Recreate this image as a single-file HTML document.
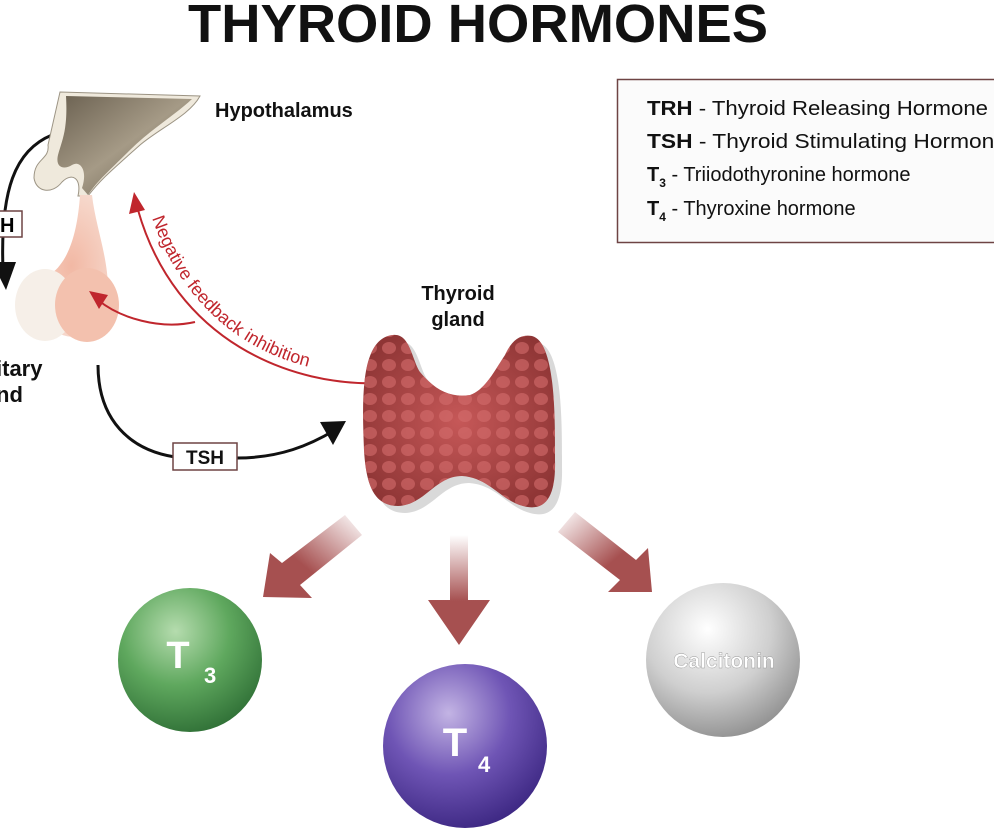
<!DOCTYPE html>
<html><head><meta charset="utf-8"><style>
html,body{margin:0;padding:0;background:#fff;}
svg{display:block;font-family:"Liberation Sans",sans-serif;}
</style></head><body>
<svg width="994" height="828" viewBox="0 0 994 828" xmlns="http://www.w3.org/2000/svg">
<defs>
<radialGradient id="gT3" cx="0.4" cy="0.3" r="0.75"><stop offset="0" stop-color="#b5dcae"/><stop offset="0.5" stop-color="#5fa85e"/><stop offset="1" stop-color="#2e6e35"/></radialGradient>
<radialGradient id="gT4" cx="0.4" cy="0.3" r="0.75"><stop offset="0" stop-color="#c3b4e4"/><stop offset="0.5" stop-color="#6f55b5"/><stop offset="1" stop-color="#3a2580"/></radialGradient>
<radialGradient id="gC" cx="0.4" cy="0.3" r="0.75"><stop offset="0" stop-color="#ffffff"/><stop offset="0.55" stop-color="#cfcfcf"/><stop offset="1" stop-color="#8d8d8d"/></radialGradient>
<radialGradient id="gTh" cx="0.5" cy="0.5" r="0.6"><stop offset="0" stop-color="#c65858"/><stop offset="1" stop-color="#8e3535"/></radialGradient>
<linearGradient id="gHy" x1="0" y1="0" x2="1" y2="1"><stop offset="0" stop-color="#6b6151"/><stop offset="0.5" stop-color="#a59a86"/><stop offset="1" stop-color="#5f5646"/></linearGradient>
<radialGradient id="gPit" cx="0.6" cy="0.5" r="0.6"><stop offset="0" stop-color="#f2b8a4"/><stop offset="1" stop-color="#f7ddd2"/></radialGradient>
<linearGradient id="aL" x1="1" y1="0" x2="0" y2="1"><stop offset="0" stop-color="#a65050" stop-opacity="0"/><stop offset="0.6" stop-color="#a65050"/></linearGradient>
<linearGradient id="aM" x1="0" y1="0" x2="0" y2="1"><stop offset="0" stop-color="#a65050" stop-opacity="0"/><stop offset="0.6" stop-color="#a65050"/></linearGradient>
<linearGradient id="aR" x1="0" y1="0" x2="1" y2="1"><stop offset="0" stop-color="#a65050" stop-opacity="0"/><stop offset="0.6" stop-color="#a65050"/></linearGradient>
<pattern id="cells" width="19" height="17" patternUnits="userSpaceOnUse"><ellipse cx="9" cy="8" rx="7" ry="6" fill="#d46c6c" opacity="0.6"/></pattern>
</defs>

<text x="478" y="42" text-anchor="middle" font-size="54" font-weight="bold" fill="#111" textLength="580" lengthAdjust="spacingAndGlyphs">THYROID HORMONES</text>

<!-- legend -->
<rect x="617.5" y="79.5" width="390" height="163" fill="#fbfbfb" stroke="#6e4444" stroke-width="1.5"/>
<g font-size="20" fill="#111">
<text x="647" y="115" textLength="341" lengthAdjust="spacingAndGlyphs"><tspan font-weight="bold">TRH</tspan> - Thyroid Releasing Hormone</text>
<text x="647" y="148" textLength="360" lengthAdjust="spacingAndGlyphs"><tspan font-weight="bold">TSH</tspan> - Thyroid Stimulating Hormone</text>
<text x="647" y="181"><tspan font-weight="bold">T</tspan><tspan font-weight="bold" font-size="12" dy="6">3</tspan><tspan dy="-6"> - Triiodothyronine hormone</tspan></text>
<text x="647" y="215"><tspan font-weight="bold">T</tspan><tspan font-weight="bold" font-size="12" dy="6">4</tspan><tspan dy="-6"> - Thyroxine hormone</tspan></text>
</g>

<!-- left TRH arrow -->
<path d="M52,135 C15,150 0,190 3,270" fill="none" stroke="#111" stroke-width="3"/>
<polygon points="-8,262 16,262 6,290" fill="#111"/>
<rect x="-10" y="211" width="32" height="26" fill="#fff" stroke="#6e4444" stroke-width="1.5"/>
<text x="0" y="232" font-size="20" font-weight="bold">H</text>

<!-- hypothalamus -->
<path d="M60,92 L200,96 C190,115 160,128 140,145 C112,170 100,180 88,196 L78,196 C82,178 72,172 62,182 C52,195 36,192 34,178 C34,158 50,160 48,145 Z" fill="#efe9dc" stroke="#9c9484" stroke-width="1"/>
<path d="M66,96 L192,99 C175,115 150,130 130,150 C110,170 98,180 88,195 L82,188 C88,170 80,160 72,165 C64,170 55,168 58,155 C62,140 68,130 66,96 Z" fill="url(#gHy)"/>
<!-- pituitary -->
<path d="M80,195 L92,195 C96,230 110,260 108,300 C105,335 70,345 55,330 C30,345 10,320 18,300 C25,280 50,280 60,265 C72,250 78,225 80,195 Z" fill="url(#gPit)"/>
<ellipse cx="45" cy="305" rx="30" ry="36" fill="#f6efe8"/>
<ellipse cx="87" cy="305" rx="32" ry="37" fill="#f3c1ae"/>
<text x="215" y="117" font-size="20" font-weight="bold" fill="#111">Hypothalamus</text>
<text x="-4" y="376" font-size="22" font-weight="bold" fill="#111">itary</text>
<text x="-4" y="402" font-size="22" font-weight="bold" fill="#111">nd</text>

<!-- TSH arrow -->
<path d="M98,365 C98,420 130,450 175,457 M237,458 C280,458 310,445 335,430" fill="none" stroke="#111" stroke-width="3"/>
<polygon points="346,421 320,422 333,445" fill="#111"/>
<rect x="173" y="443" width="64" height="27" fill="#fff" stroke="#6e4444" stroke-width="1.5"/>
<text x="205" y="464" text-anchor="middle" font-size="19" font-weight="bold" fill="#111">TSH</text>

<!-- red feedback -->
<path d="M385,383 C290,388 175,340 138,210" fill="none" stroke="#c0262d" stroke-width="2"/>
<polygon points="134,192 129,214 145,210" fill="#c0262d"/>
<path d="M195,322 C160,330 120,318 98,300" fill="none" stroke="#c0262d" stroke-width="2"/>
<polygon points="89,291 108,295 99,309" fill="#c0262d"/>
<path id="fbp" d="M152,218 C185,315 260,365 345,373" fill="none"/>
<text font-size="18" fill="#c0262d"><textPath href="#fbp">Negative feedback inhibition</textPath></text>

<!-- thyroid -->
<text x="458" y="300" text-anchor="middle" font-size="20" font-weight="bold" fill="#111">Thyroid</text>
<text x="458" y="326" text-anchor="middle" font-size="20" font-weight="bold" fill="#111">gland</text>
<g transform="translate(7,7)" opacity="0.15"><path id="thp" d="M393,335 C410,333 412,360 420,372 C435,390 450,398 470,395 C485,390 495,370 505,355 C512,340 520,334 532,336 C556,342 555,420 555,460 C556,498 545,512 523,506 C500,500 490,478 462,476 C435,476 425,505 398,506 C374,506 366,485 364,450 C362,400 360,338 393,335 Z" fill="#000"/></g>
<path d="M393,335 C410,333 412,360 420,372 C435,390 450,398 470,395 C485,390 495,370 505,355 C512,340 520,334 532,336 C556,342 555,420 555,460 C556,498 545,512 523,506 C500,500 490,478 462,476 C435,476 425,505 398,506 C374,506 366,485 364,450 C362,400 360,338 393,335 Z" fill="url(#gTh)"/>
<path d="M393,335 C410,333 412,360 420,372 C435,390 450,398 470,395 C485,390 495,370 505,355 C512,340 520,334 532,336 C556,342 555,420 555,460 C556,498 545,512 523,506 C500,500 490,478 462,476 C435,476 425,505 398,506 C374,506 366,485 364,450 C362,400 360,338 393,335 Z" fill="url(#cells)"/>

<!-- big arrows -->
<polygon points="345,515 362,535 300,585 312,598 263,597 270,553 282,563" fill="url(#aL)"/>
<polygon points="450,535 468,535 468,600 490,600 459,645 428,600 450,600" fill="url(#aM)"/>
<polygon points="575,512 558,532 620,580 608,592 652,592 648,548 636,560" fill="url(#aR)"/>

<!-- spheres -->
<circle cx="190" cy="660" r="72" fill="url(#gT3)"/>
<text x="178" y="668" font-size="38" font-weight="bold" fill="#fff" text-anchor="middle">T</text>
<text x="204" y="683" font-size="22" font-weight="bold" fill="#fff">3</text>
<circle cx="465" cy="746" r="82" fill="url(#gT4)"/>
<text x="455" y="756" font-size="40" font-weight="bold" fill="#fff" text-anchor="middle">T</text>
<text x="478" y="772" font-size="22" font-weight="bold" fill="#fff">4</text>
<circle cx="723" cy="660" r="77" fill="url(#gC)"/>
<text x="724" y="668" font-size="21" font-weight="bold" fill="#fff" text-anchor="middle" stroke="#999" stroke-width="0.4">Calcitonin</text>
</svg>
</body></html>
